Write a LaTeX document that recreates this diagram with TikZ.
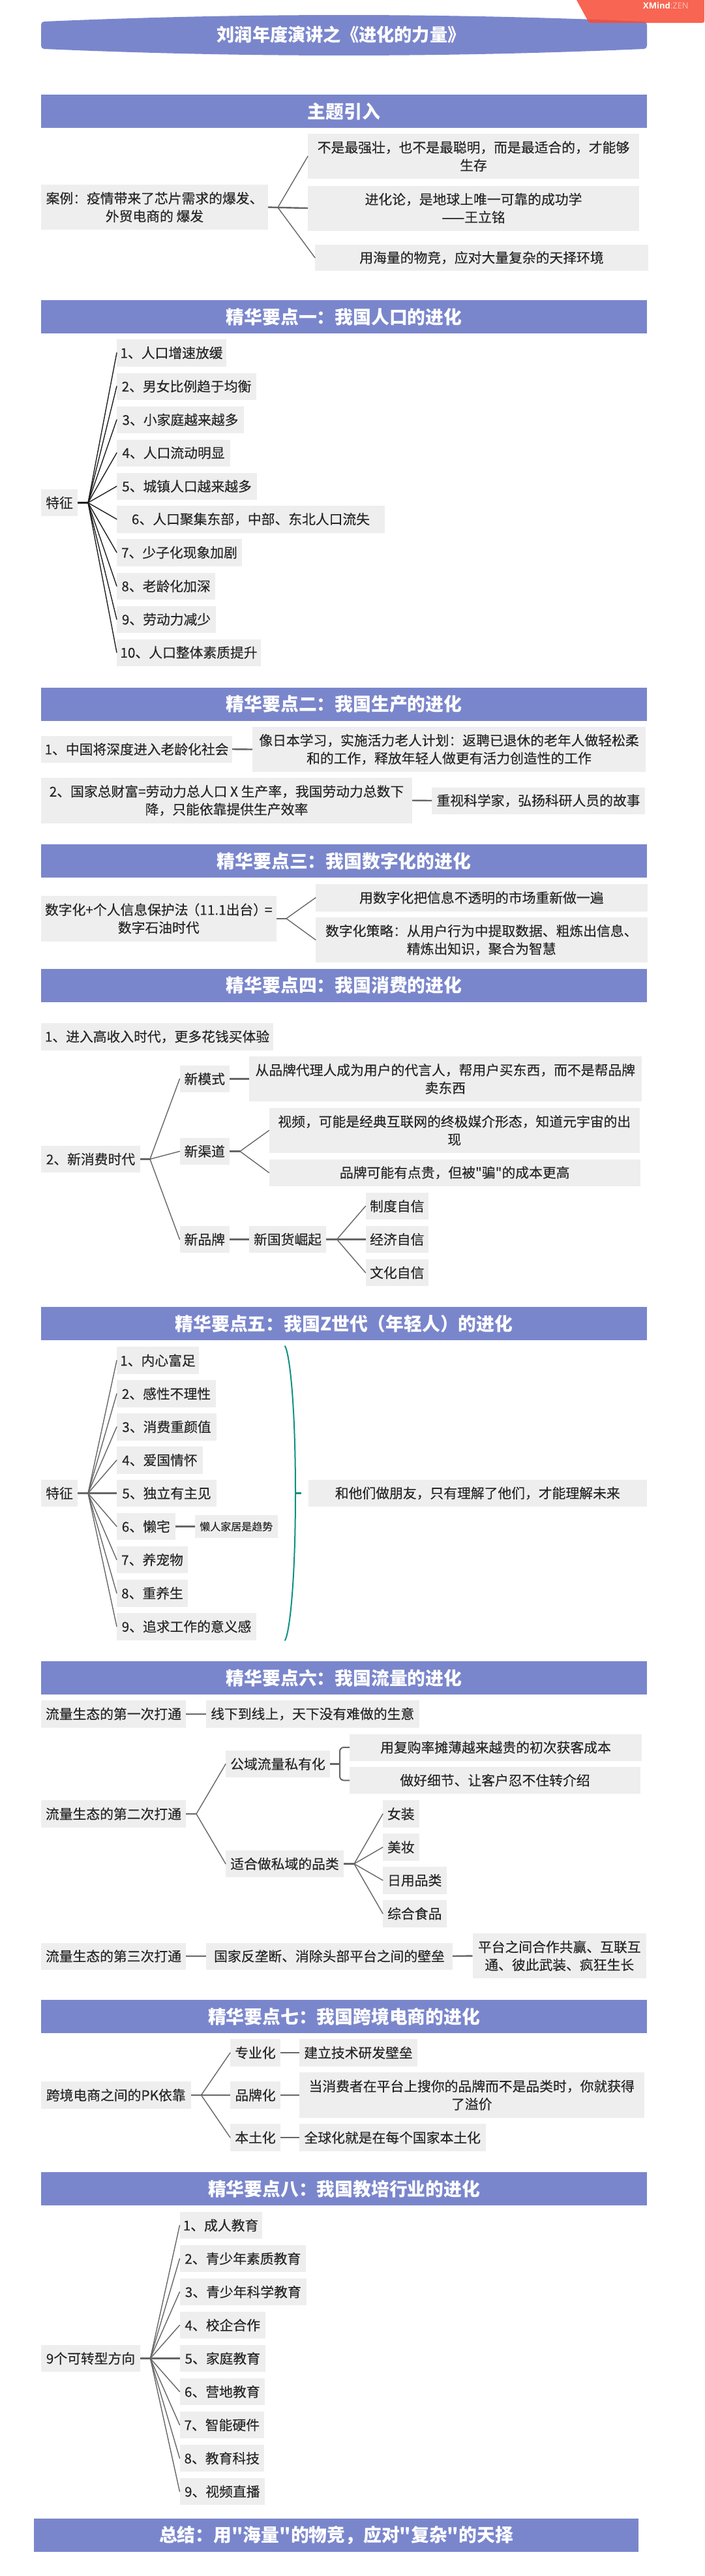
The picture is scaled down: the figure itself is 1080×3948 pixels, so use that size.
\documentclass[tikz,border=0pt]{standalone}
\usepackage{fontspec}
\setmainfont{Noto Sans CJK SC}
\newfontfamily\bodyf{Noto Sans CJK SC}[FakeBold=0.22]
\newfontfamily\headf{Noto Sans CJK SC}
\newfontfamily\tagfont{Open Sans}
\definecolor{bannerc}{HTML}{7A86CC}
\definecolor{boxc}{HTML}{EEEEEE}
\definecolor{tagc}{HTML}{F74B34}
\definecolor{linec}{HTML}{666666}
\definecolor{darkline}{HTML}{1E1E1E}
\definecolor{tealc}{HTML}{0F9083}
\definecolor{textc}{HTML}{262626}
\tikzset{
  boxn/.style={fill=boxc,inner sep=0pt,outer sep=0pt,align=center,text=textc,
    font=\bodyf\fontsize{20.8pt}{27.4pt}\selectfont},
  smalln/.style={font=\bodyf\fontsize{16pt}{20pt}\selectfont},
  bannern/.style={fill=bannerc,inner sep=0pt,outer sep=0pt,align=center,text=white,
    font=\headf\fontsize{27.8pt}{32pt}\selectfont\bfseries},
  stemline/.style={line width=2.4pt,line cap=butt},
  branchline/.style={line width=1.4pt,line cap=round},
}
% #1 extra style, #2 name, #3 x0, #4 y0, #5 x1, #6 y1, #7 text
\newcommand\bx[7][]{\node[boxn,#1,minimum width={#5-#3},minimum height={#6-#4}] (#2) at ({(#3+#5)/2},{(#4+#6)/2}) {#7};}
% fork: #1 colour, #2 root, #3 junction, #4 slanted children, #5 level children
\newcommand\fork[5][linec]{%
  \draw[stemline,#1] (#2.east) -- (#3);
  \foreach \k in {#4} {\draw[branchline,#1] (#3) -- (\k.west);}
  \foreach \k in {#5} {\draw[stemline,#1] (#3) -- (\k.west);}
}
\newcommand\lnk[2]{\draw[stemline,linec] (#1.east) -- (#2.west);}
\begin{document}
\begin{tikzpicture}[x=1pt,y=-1pt]
\useasboundingbox (0,0) rectangle (1080,3948);
\fill[white] (0,0) rectangle (1080,3948);

% title
\fill[bannerc] (68,33) .. controls (374,19.7) and (681,19.7) .. (987,33)
  .. controls (990,33) and (992,35) .. (992,38) -- (992,70)
  .. controls (992,73) and (990,75) .. (987,75)
  .. controls (681,88.3) and (374,88.3) .. (68,75)
  .. controls (65,75) and (63,73) .. (63,70) -- (63,38)
  .. controls (63,35) and (65,33) .. (68,33) -- cycle;
\node[text=white,font=\headf\fontsize{27.2pt}{32pt}\selectfont\bfseries,inner sep=0pt] (title) at (523,53) {刘润年度演讲之《进化的力量》};
% xmind tag
\fill[tagc,opacity=.85] (884,0) -- (1080,0) -- (1080,32) .. controls (1080,34) and (1079,35) .. (1077,35) -- (905,35) .. controls (904,35) and (903,34.5) .. (902,33) -- cycle;
\node[inner sep=0pt,font=\tagfont\fontsize{13pt}{15pt}\selectfont,text=white] (tagtext) at (1021,9) {\textbf{XMind}\textcolor{white!65!tagc}{:ZEN}};

% intro
\node[bannern,minimum width=929,minimum height=51] (b0) at (527.5,170.5) {主题引入};
\bx{i0}{63}{283}{411}{352}{案例：疫情带来了芯片需求的爆发、\\外贸电商的 爆发}
\bx{i1}{472}{205}{980}{274}{不是最强壮，也不是最聪明，而是最适合的，才能够\\生存}
\bx{i2}{472}{284.5}{980}{353.5}{进化论，是地球上唯一可靠的成功学\\——王立铭}
\bx{i3}{483}{375}{994}{415}{用海量的物竞，应对大量复杂的天择环境}
\coordinate (ji) at (426,318);
\fork{i0}{ji}{i1,i3}{i2}

% point 1
\node[bannern,minimum width=929,minimum height=51] (b1) at (527.5,485.5) {精华要点一：我国人口的进化};
\bx{p1r}{63}{750}{119}{791}{特征}
\bx{p1a}{179}{520}{347}{561.5}{1、人口增速放缓}
\bx{p1b}{179}{571.5}{393}{612.5}{2、男女比例趋于均衡}
\bx{p1c}{179}{622.5}{374}{664}{3、小家庭越来越多}
\bx{p1d}{179}{673.5}{353}{714.5}{4、人口流动明显}
\bx{p1e}{179}{724.5}{394}{766}{5、城镇人口越来越多}
\bx{p1f}{179}{775}{590}{816.5}{6、人口聚集东部，中部、东北人口流失}
\bx{p1g}{179}{826}{371}{867.5}{7、少子化现象加剧}
\bx{p1h}{179}{877.5}{330}{919}{8、老龄化加深}
\bx{p1i}{179}{928.5}{331}{970}{9、劳动力减少}
\bx{p1j}{179}{979.5}{400}{1020.5}{10、人口整体素质提升}
\coordinate (j1) at (135,770.5);
\fork[darkline]{p1r}{j1}{p1a,p1b,p1c,p1d,p1e,p1f,p1g,p1h,p1i,p1j}{}

% point 2
\node[bannern,minimum width=929,minimum height=51] (b2) at (527.5,1079) {精华要点二：我国生产的进化};
\bx{p2a}{63}{1127.5}{356}{1169}{1、中国将深度进入老龄化社会}
\bx{p2b}{387}{1114}{990}{1183}{像日本学习，实施活力老人计划：返聘已退休的老年人做轻松柔\\和的工作，释放年轻人做更有活力创造性的工作}
\lnk{p2a}{p2b}
\bx{p2c}{63}{1192}{632}{1261.5}{2、国家总财富=劳动力总人口 X 生产率，我国劳动力总数下\\降，只能依靠提供生产效率}
\bx{p2d}{662}{1206.5}{989}{1247.5}{重视科学家，弘扬科研人员的故事}
\lnk{p2c}{p2d}

% point 3
\node[bannern,minimum width=929,minimum height=51] (b3) at (527.5,1319.5) {精华要点三：我国数字化的进化};
\bx{p3r}{63}{1373}{423.5}{1442.5}{数字化+个人信息保护法\hspace{-.15em}（11.1出台）\hspace{-.15em}=\\数字石油时代}
\bx{p3a}{484}{1355}{992.5}{1396.5}{用数字化把信息不透明的市场重新做一遍}
\bx{p3b}{484}{1406}{992.5}{1475}{数字化策略：从用户行为中提取数据、粗炼出信息、\\精炼出知识，聚合为智慧}
\coordinate (j3) at (439,1407.75);
\fork{p3r}{j3}{p3a,p3b}{}

% point 4
\node[bannern,minimum width=929,minimum height=51] (b4) at (527.5,1510) {精华要点四：我国消费的进化};
\bx{p4a}{63}{1568}{419}{1609.5}{1、进入高收入时代，更多花钱买体验}
\bx{p4r}{63}{1756}{215}{1797}{2、新消费时代}
\bx{p4m}{275.5}{1633}{352}{1674}{新模式}
\bx{p4ma}{382}{1619}{983.5}{1688}{从品牌代理人成为用户的代言人，帮用户买东西，而不是帮品牌\\卖东西}
\bx{p4c}{275.5}{1744}{352}{1785}{新渠道}
\bx{p4ca}{412.5}{1698}{981}{1767}{视频，可能是经典互联网的终极媒介形态，知道元宇宙的出\\现}
\bx{p4cb}{412.5}{1776.5}{982}{1818}{品牌可能有点贵，但被"骗"的成本更高}
\bx{p4b}{275.5}{1879}{352}{1920}{新品牌}
\bx{p4g}{382}{1879}{500}{1920}{新国货崛起}
\bx{p4x}{560.5}{1828}{657}{1869}{制度自信}
\bx{p4y}{560.5}{1879}{657}{1920}{经济自信}
\bx{p4z}{560.5}{1930}{657}{1971}{文化自信}
\coordinate (j4) at (230,1776.5);
\coordinate (j4c) at (368,1764.5);
\coordinate (j4g) at (516.5,1899.5);
\fork{p4r}{j4}{p4m,p4c,p4b}{}
\lnk{p4m}{p4ma}
\fork{p4c}{j4c}{p4ca,p4cb}{}
\lnk{p4b}{p4g}
\fork{p4g}{j4g}{p4x,p4z}{p4y}

% point 5
\node[bannern,minimum width=929,minimum height=51] (b5) at (527.5,2028.5) {精华要点五：我国Z世代（年轻人）的进化};
\bx{p5r}{63}{2268}{119}{2309}{特征}
\bx{p5a}{179}{2064}{305}{2106}{1、内心富足}
\bx{p5b}{179}{2115}{331}{2157}{2、感性不理性}
\bx{p5c}{179}{2166}{332}{2207.5}{3、消费重颜值}
\bx{p5d}{179}{2217}{311}{2258.5}{4、爱国情怀}
\bx{p5e}{179}{2268}{332}{2309}{5、独立有主见}
\bx{p5f}{179}{2319}{268.5}{2360}{6、懒宅}
\bx[smalln]{p5fa}{299}{2322}{425.5}{2357}{懒人家居是趋势}
\bx{p5g}{179}{2370}{288}{2411}{7、养宠物}
\bx{p5h}{179}{2421}{288}{2462.5}{8、重养生}
\bx{p5i}{179}{2472}{393}{2513.5}{9、追求工作的意义感}
\coordinate (j5) at (135,2288.5);
\fork{p5r}{j5}{p5a,p5b,p5c,p5d,p5f,p5g,p5h,p5i}{p5e}
\lnk{p5f}{p5fa}
\coordinate (brtop) at (437,2063);
\coordinate (brmid) at (453,2288.5);
\coordinate (brbot) at (437,2514);
\coordinate (brtip) at (462,2288.5);
\draw[tealc,line width=2pt,line cap=round] (brtop) .. controls (444,2075) and (453,2150) .. (brmid) .. controls (453,2426) and (444,2502) .. (brbot);
\draw[tealc,line width=2.4pt] (brmid) -- (brtip);
\bx{p5s}{472.5}{2268}{992}{2309}{和他们做朋友，只有理解了他们，才能理解未来}

% point 6
\node[bannern,minimum width=929,minimum height=51] (b6) at (527.5,2571.5) {精华要点六：我国流量的进化};
\bx{p6a}{63}{2606}{285}{2647.5}{流量生态的第一次打通}
\bx{p6aa}{316}{2606}{642.5}{2647.5}{线下到线上，天下没有难做的生意}
\lnk{p6a}{p6aa}
\bx{p6r}{63}{2759}{285}{2801}{流量生态的第二次打通}
\bx{p6g}{346}{2683}{506}{2724}{公域流量私有化}
\bx{p6g1}{536}{2657.5}{984}{2698.5}{用复购率摊薄越来越贵的初次获客成本}
\bx{p6g2}{536}{2708}{982}{2749}{做好细节、让客户忍不住转介绍}
\bx{p6s}{346}{2836}{527}{2877}{适合做私域的品类}
\bx{p6s1}{587}{2759}{642.5}{2801}{女装}
\bx{p6s2}{587}{2810}{642.5}{2852}{美妆}
\bx{p6s3}{587}{2861}{684.5}{2902.5}{日用品类}
\bx{p6s4}{587}{2912}{684.5}{2953.5}{综合食品}
\coordinate (j6) at (301,2780);
\coordinate (j6g) at (521,2703.5);
\coordinate (j6s) at (543,2856.5);
\fork{p6r}{j6}{p6g,p6s}{}
\draw[stemline,linec] (p6g.east) -- (j6g);
\draw[linec,line width=2pt,rounded corners=6pt] (p6g1.west) -| (j6g) |- (p6g2.west);
\fork{p6s}{j6s}{p6s1,p6s2,p6s3,p6s4}{}
\bx{p6c}{63}{2977.5}{285}{3018.5}{流量生态的第三次打通}
\bx{p6d}{316}{2977.5}{694}{3018.5}{国家反垄断、消除头部平台之间的壁垒}
\bx{p6e}{724.5}{2963}{991}{3032}{平台之间合作共赢、互联互\\通、彼此武装、疯狂生长}
\lnk{p6c}{p6d}
\lnk{p6d}{p6e}

% point 7
\node[bannern,minimum width=929,minimum height=51] (b7) at (527.5,3090.5) {精华要点七：我国跨境电商的进化};
\bx{p7r}{63}{3190}{292.5}{3232}{跨境电商之间的PK依靠}
\bx{p7a}{353}{3125}{430}{3167}{专业化}
\bx{p7aa}{459}{3125}{640}{3167}{建立技术研发壁垒}
\bx{p7b}{353}{3190}{430}{3232}{品牌化}
\bx{p7bb}{459}{3176}{987.5}{3246}{当消费者在平台上搜你的品牌而不是品类时，你就获得\\了溢价}
\bx{p7c}{353}{3255}{430}{3297}{本土化}
\bx{p7cc}{459}{3255}{744.5}{3297}{全球化就是在每个国家本土化}
\coordinate (j7) at (308.5,3211);
\fork{p7r}{j7}{p7a,p7c}{p7b}
\lnk{p7a}{p7aa}
\lnk{p7b}{p7bb}
\lnk{p7c}{p7cc}

% point 8
\node[bannern,minimum width=929,minimum height=51] (b8) at (527.5,3354.5) {精华要点八：我国教培行业的进化};
\bx{p8r}{63}{3594}{215}{3635}{9个可转型方向}
\bx{p8a}{275.5}{3390}{401.5}{3431}{1、成人教育}
\bx{p8b}{275.5}{3441}{469}{3482}{2、青少年素质教育}
\bx{p8c}{275.5}{3492}{470}{3533}{3、青少年科学教育}
\bx{p8d}{275.5}{3543}{407}{3584}{4、校企合作}
\bx{p8e}{275.5}{3594}{407}{3635}{5、家庭教育}
\bx{p8f}{275.5}{3645}{406}{3686}{6、营地教育}
\bx{p8g}{275.5}{3696}{405}{3737}{7、智能硬件}
\bx{p8h}{275.5}{3747}{405}{3788}{8、教育科技}
\bx{p8i}{275.5}{3798}{406}{3839}{9、视频直播}
\coordinate (j8) at (230.5,3614.5);
\fork{p8r}{j8}{p8a,p8b,p8c,p8d,p8f,p8g,p8h,p8i}{p8e}

% summary
\node[bannern,minimum width=927,minimum height=51] (b9) at (515.5,3885.5) {总结：用"海量"的物竞，应对"复杂"的天择};
\end{tikzpicture}
\end{document}
